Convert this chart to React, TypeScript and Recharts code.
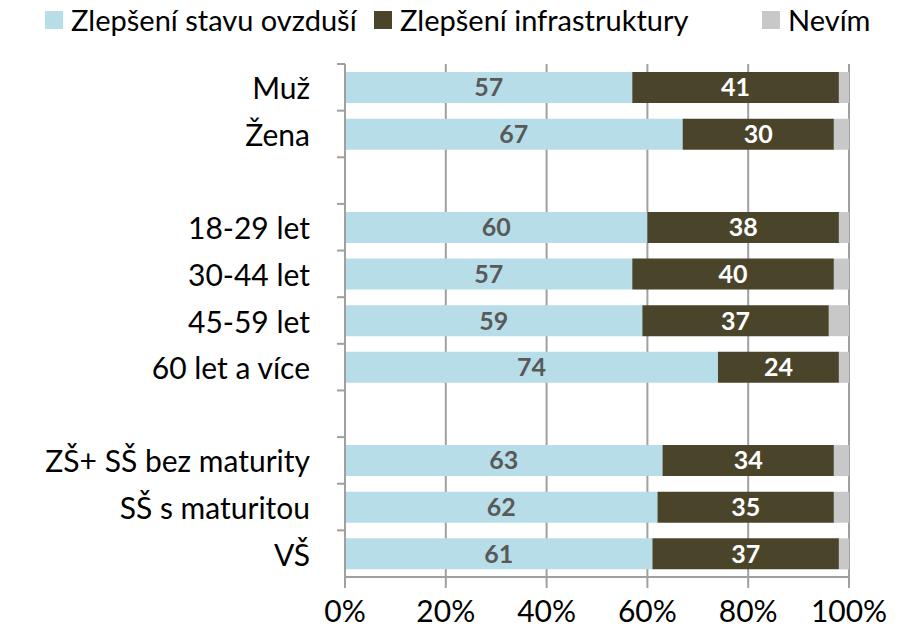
import React from 'react';
import { BarChart, Bar, XAxis, YAxis, CartesianGrid, LabelList } from 'recharts';

const categories = ['Muž', 'Žena', '', '18-29 let', '30-44 let', '45-59 let', '60 let a více', ' ', 'ZŠ+ SŠ bez maturity', 'SŠ s maturitou', 'VŠ'];
const ovzdusi = [57, 67, null, 60, 57, 59, 74, null, 63, 62, 61];
const infrastruktura = [41, 30, null, 38, 40, 37, 24, null, 34, 35, 37];
const nevim = [2, 3, null, 2, 3, 4, 2, null, 3, 3, 2];
const xTicks = [0, 20, 40, 60, 80, 100];

const seriesNames = ['Zlepšení stavu ovzduší', 'Zlepšení infrastruktury', 'Nevím'];
const colors = ['#B7DEE8', '#4A452A', '#C8C8C8'];

const data = categories.map((name, i) => ({
  name,
  ovzdusi: ovzdusi[i],
  infrastruktura: infrastruktura[i],
  nevim: nevim[i],
}));

const FONT = 'Lato, "Noto Sans", sans-serif';
const W = 890;
const H = 623;
const M = { top: 56, right: 49, bottom: 0, left: 0 };
const Y_W = 337;
const X_H = 54;
const band = (H - M.top - M.bottom - X_H) / categories.length;

const YTick = (props: any) => {
  const { x, y, payload } = props;
  const ax = x + 35;
  return (
    <g>
      <line x1={ax - 8} x2={ax} y1={y - band / 2} y2={y - band / 2} stroke="#A0A0A0" strokeWidth={2} />
      <text x={x} y={y} textAnchor="end" dominantBaseline="central" fontSize={30} fill="#000" fontFamily={FONT}>
        {payload.value}
      </text>
    </g>
  );
};

const fmt = (v: any) => (v == null ? '' : v);

export default function App() {
  return (
    <div style={{ position: 'relative', width: W, height: H, fontFamily: FONT }}>
      <div style={{ position: 'absolute', top: 0, left: 0, width: W, height: 40, zIndex: 1 }}>
        {seriesNames.map((n, i) => (
          <div key={n} style={{ position: 'absolute', left: [37, 366, 754][i], top: -6, display: 'flex', alignItems: 'center', whiteSpace: 'nowrap' }}>
            <span style={{ display: 'inline-block', width: 18, height: 18, background: colors[i], marginRight: 8 }} />
            <span style={{ fontSize: 29, color: '#000' }}>{n}</span>
          </div>
        ))}
      </div>
      <BarChart width={W} height={H} data={data} layout="vertical" margin={M} barSize={31}>
        <CartesianGrid horizontal={false} stroke="#A0A0A0" strokeWidth={2} />
        <XAxis
          type="number"
          domain={[0, 100]}
          ticks={xTicks}
          tickFormatter={(v) => `${v}%`}
          height={X_H}
          tickSize={11}
          tickMargin={13}
          axisLine={{ stroke: '#A0A0A0', strokeWidth: 2 }}
          tickLine={{ stroke: '#A0A0A0', strokeWidth: 2 }}
          tick={{ fontSize: 30, fill: '#000', fontFamily: FONT }}
          allowDataOverflow
        />
        <YAxis
          type="category"
          dataKey="name"
          width={Y_W}
          tickSize={0}
          tickMargin={35}
          tick={<YTick />}
          interval={0}
          axisLine={{ stroke: '#A0A0A0', strokeWidth: 2 }}
          tickLine={false}
        />
        <Bar dataKey="ovzdusi" stackId="a" fill={colors[0]} isAnimationActive={false}>
          <LabelList dataKey="ovzdusi" position="center" formatter={fmt} fill="#595959" fontSize={25} fontWeight="bold" fontFamily={FONT} />
        </Bar>
        <Bar dataKey="infrastruktura" stackId="a" fill={colors[1]} isAnimationActive={false}>
          <LabelList dataKey="infrastruktura" position="center" formatter={fmt} fill="#FFFFFF" fontSize={25} fontWeight="bold" fontFamily={FONT} />
        </Bar>
        <Bar dataKey="nevim" stackId="a" fill={colors[2]} isAnimationActive={false} />
      </BarChart>
    </div>
  );
}
